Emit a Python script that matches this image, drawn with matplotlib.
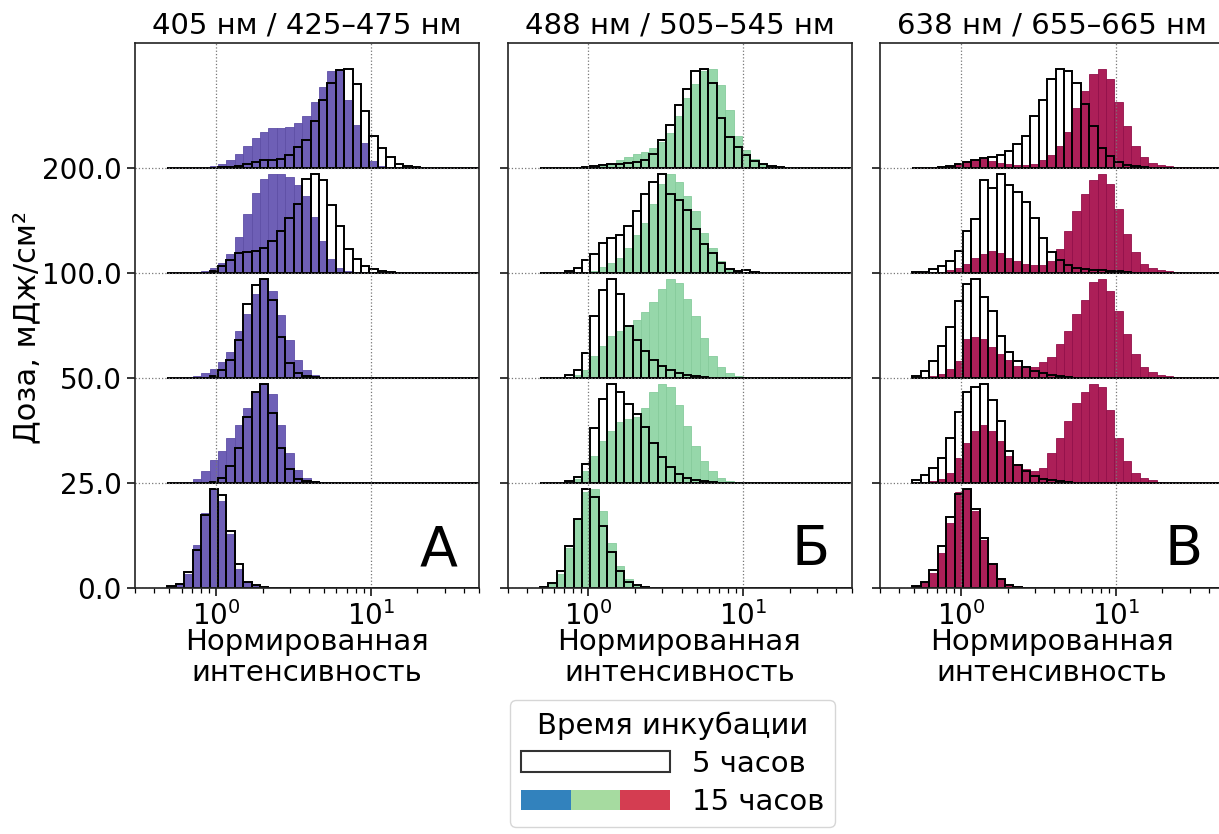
"""
Гистограммы интенсивности по дозам облучения для трёх каналов (405/488/638 нм).
"""

import numpy as np
import matplotlib
matplotlib.use("Agg")
import matplotlib.pyplot as plt
from matplotlib.patches import Patch
from matplotlib.legend_handler import HandlerTuple

# ── данные ────────────────────────────────────────────────
DOSE_LABELS = ["0.0", "25.0", "50.0", "100.0", "200.0"]
TITLES = ["405 нм / 425–475 нм", "488 нм / 505–545 нм", "638 нм / 655–665 нм"]
LETTERS = ["А", "Б", "В"]

# логарифмические бины гистограмм
BIN_LOG_START, BIN_LOG_STOP, N_BINS = -0.313, 1.698, 37

# высоты столбцов, % от максимума серии; строки: 0, 25, 50, 100, 200 мДж/см²
A5_0 = [2, 4, 16, 38, 74, 100, 94, 57, 24, 6, 3, 1]
A5_25 = [0, 0, 0, 0, 0, 1, 5, 17, 35, 66, 92, 100, 71, 35, 14, 4, 2, 1]
A5_50 = [0, 0, 0, 0, 0, 2, 8, 18, 38, 75, 94, 100, 79, 41, 15, 5, 2, 1]
A5_100 = [0, 0, 0, 0, 0, 2, 7, 13, 20, 21, 22, 25, 32, 42, 55, 70, 95, 100, 94, 68, 47, 24, 14, 7, 4, 2, 1]
A5_200 = [0, 0, 0, 0, 0, 0, 1, 1, 2, 4, 6, 8, 8, 9, 13, 21, 28, 47, 68, 86, 99, 100, 85, 57, 32, 20, 11, 4, 2, 1]

A15_0 = [1, 5, 14, 43, 76, 100, 88, 54, 19, 6, 3, 1]
A15_25 = [0, 0, 1, 4, 12, 23, 32, 45, 58, 76, 92, 100, 90, 58, 30, 13, 5, 2, 1]
A15_50 = [0, 0, 1, 2, 5, 9, 16, 26, 47, 64, 85, 100, 88, 63, 38, 18, 8, 3, 1]
A15_100 = [0, 0, 0, 1, 2, 5, 10, 19, 36, 59, 81, 95, 100, 100, 97, 89, 78, 56, 32, 14, 5, 2, 1]
A15_200 = [0, 0, 0, 0, 0, 2, 4, 8, 14, 22, 30, 36, 40, 40, 41, 45, 52, 66, 82, 98, 100, 68, 43, 25, 7, 2, 1]

B5_0 = [1, 5, 17, 42, 70, 100, 92, 62, 36, 17, 6, 3, 1]
B5_25 = [0, 0, 0, 2, 6, 19, 55, 85, 100, 92, 80, 70, 56, 40, 26, 16, 9, 5, 3, 2, 1]
B5_50 = [0, 0, 0, 3, 8, 25, 62, 89, 100, 85, 52, 38, 27, 18, 12, 8, 5, 3, 2, 1]
B5_100 = [0, 0, 0, 2, 5, 13, 19, 30, 35, 38, 47, 62, 80, 92, 100, 80, 74, 63, 44, 29, 20, 10, 4, 2, 3, 1]
B5_200 = [0, 0, 0, 0, 0, 1, 2, 3, 4, 4, 5, 6, 8, 14, 28, 43, 63, 80, 98, 100, 86, 50, 31, 21, 13, 7, 4, 2, 1]

B15_0 = [1, 4, 14, 40, 70, 97, 100, 78, 45, 22, 9, 3, 1]
B15_25 = [0, 0, 0, 1, 4, 12, 27, 42, 52, 61, 64, 66, 76, 92, 100, 97, 79, 57, 37, 22, 12, 5, 2, 1]
B15_50 = [0, 0, 0, 1, 3, 8, 22, 32, 42, 47, 52, 58, 66, 77, 90, 100, 96, 80, 62, 40, 22, 11, 5, 2, 1]
B15_100 = [0, 0, 0, 0, 0, 0, 2, 6, 10, 15, 25, 38, 50, 70, 90, 100, 92, 78, 62, 40, 25, 12, 5, 2, 1]
B15_200 = [0, 0, 0, 0, 0, 0, 1, 2, 4, 8, 11, 14, 16, 20, 26, 35, 52, 70, 85, 98, 100, 84, 58, 32, 18, 9, 4, 2, 1]

C5_0 = [2, 6, 18, 42, 72, 95, 100, 80, 50, 24, 9, 3, 1]
C5_25 = [3, 8, 15, 25, 45, 72, 92, 97, 100, 84, 62, 32, 18, 12, 7, 4, 3, 2, 1]
C5_50 = [2, 7, 17, 32, 51, 78, 95, 100, 82, 67, 42, 26, 17, 11, 7, 5, 3, 2, 1]
C5_100 = [1, 1, 4, 7, 12, 22, 42, 54, 94, 86, 100, 89, 82, 72, 55, 35, 21, 13, 8, 5, 4, 3, 3, 2, 2, 1]
C5_200 = [0, 0, 0, 1, 2, 4, 6, 8, 10, 11, 13, 17, 24, 32, 52, 68, 90, 100, 98, 86, 64, 42, 20, 12, 6, 3, 2, 1]

C15_0 = [2, 5, 15, 35, 65, 97, 100, 78, 48, 24, 10, 4, 2, 1]
C15_25 = [0, 1, 2, 4, 10, 25, 40, 52, 58, 52, 42, 27, 19, 14, 12, 15, 30, 45, 62, 81, 92, 100, 97, 74, 45, 22, 10, 5, 3, 1]
C15_50 = [0, 0, 2, 4, 9, 17, 39, 41, 39, 31, 24, 18, 12, 10, 11, 16, 21, 34, 47, 64, 79, 97, 100, 88, 67, 44, 24, 11, 6, 3, 2, 1]
C15_100 = [0, 0, 0, 1, 3, 5, 9, 15, 19, 22, 20, 15, 12, 9, 8, 8, 12, 24, 42, 62, 80, 94, 100, 90, 64, 39, 21, 9, 5, 3, 2, 1]
C15_200 = [0, 0, 0, 1, 2, 4, 7, 8, 9, 7, 5, 4, 3, 3, 4, 8, 13, 22, 36, 60, 78, 95, 100, 90, 66, 42, 22, 11, 5, 3, 2, 1, 1]

PANELS = [
    ([A5_0, A5_25, A5_50, A5_100, A5_200], [A15_0, A15_25, A15_50, A15_100, A15_200]),
    ([B5_0, B5_25, B5_50, B5_100, B5_200], [B15_0, B15_25, B15_50, B15_100, B15_200]),
    ([C5_0, C5_25, C5_50, C5_100, C5_200], [C15_0, C15_25, C15_50, C15_100, C15_200]),
]

# ── оформление ────────────────────────────────────────────
FILL_COLORS = ["#6E5FB6", "#96D7AA", "#AC1F58"]
EDGE_COLORS = ["#5E4FA6", "#86CB9C", "#93104A"]
LEGEND_COLORS = ["#3282BD", "#A6DBA0", "#D43D51"]
FS = 21        # подписи, заголовки, легенда
FS_TICK = 20   # подписи делений
PEAK = 0.945

W, H = 1219, 834
AX_LEFTS = [135, 507.5, 880]
AX_TOP, AX_BOTTOM, AX_W = 43, 588, 344

fig = plt.figure(figsize=(W / 100, H / 100), dpi=100)

edges = np.logspace(BIN_LOG_START, BIN_LOG_STOP, N_BINS + 1)
widths = np.diff(edges)


def _pad(vals):
    v = np.asarray(vals, dtype=float)
    return np.pad(v, (0, N_BINS - len(v)))


for k, (series5, series15) in enumerate(PANELS):
    ax = fig.add_axes([AX_LEFTS[k] / W, 1 - AX_BOTTOM / H,
                       AX_W / W, (AX_BOTTOM - AX_TOP) / H])
    for row, (h5, h15) in enumerate(zip(series5, series15)):
        ax.bar(edges[:-1], _pad(h15) / 100 * PEAK, width=widths, bottom=row,
               align="edge", color=FILL_COLORS[k], edgecolor=EDGE_COLORS[k],
               linewidth=0.6)
        ax.bar(edges[:-1], _pad(h5) / 100 * PEAK, width=widths, bottom=row,
               align="edge", facecolor="none", edgecolor="black", linewidth=1.4)

    ax.set_xscale("log")
    ax.set_xlim(0.3, 50)
    ax.set_ylim(0, 5.19)
    ax.set_yticks(range(len(DOSE_LABELS)))
    if k == 0:
        ax.set_yticklabels(DOSE_LABELS)
    else:
        ax.set_yticklabels([])
    ax.set_xticks([1, 10])
    ax.grid(True, which="major", linestyle=":", color="#777777", linewidth=0.9)
    ax.tick_params(axis="both", which="major", labelsize=FS_TICK, length=6, width=1.1)
    ax.tick_params(axis="x", which="minor", length=3.5, width=0.9)
    for sp in ax.spines.values():
        sp.set_linewidth(1.2)
        sp.set_color("#222222")
    ax.set_title(TITLES[k], fontsize=FS, pad=7)
    ax.set_xlabel("Нормированная\nинтенсивность", fontsize=FS, labelpad=-2,
                  linespacing=1.1)
    ax.text(0.937, 0.042, LETTERS[k], transform=ax.transAxes, ha="right",
            va="baseline", fontsize=40)

fig.text(27 / W, 1 - 327 / H, "Доза, мДж/см²", rotation=90, ha="center",
         va="center", fontsize=22)

h_5 = Patch(facecolor="white", edgecolor="#333333", linewidth=1.5)
h_15 = tuple(Patch(facecolor=c, edgecolor="none") for c in LEGEND_COLORS)
fig.legend([h_5, h_15], ["5 часов", "15 часов"],
           handler_map={tuple: HandlerTuple(ndivide=None, pad=0)},
           title="Время инкубации", title_fontsize=FS, fontsize=FS,
           loc="upper left", bbox_to_anchor=(510 / W, 1 - 700 / H),
           borderaxespad=0, handlelength=5.1, handleheight=0.7,
           handletextpad=0.75, labelspacing=0.35, borderpad=0.38)

fig.savefig("out.png", dpi=100)
plt.close(fig)
